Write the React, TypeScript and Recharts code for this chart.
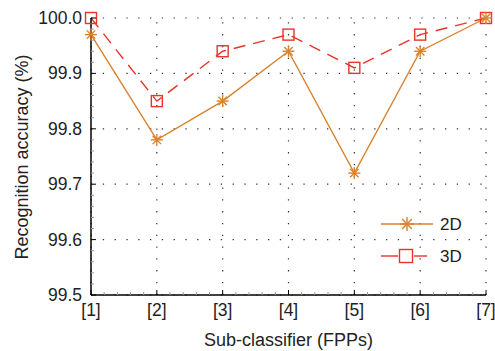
import React from 'react'
import { LineChart, Line, XAxis, YAxis, ReferenceLine, Label } from 'recharts'

const categories = ['[1]', '[2]', '[3]', '[4]', '[5]', '[6]', '[7]']
const acc2D = [99.97, 99.78, 99.85, 99.94, 99.72, 99.94, 100.0]
const acc3D = [100.0, 99.85, 99.94, 99.97, 99.91, 99.97, 100.0]
const yMajor = [99.5, 99.6, 99.7, 99.8, 99.9, 100.0]
const xMajor = [1, 2, 3, 4, 5, 6, 7]

const ORANGE = '#d9822b'
const RED = '#e8332a'
const FONT = "'Liberation Sans', Arial, sans-serif"

const data = categories.map((c, i) => ({ x: xMajor[i], label: c, d2: acc2D[i], d3: acc3D[i] }))

// minor ticks: 5 subdivisions between major ticks
const withMinor = (majors: number[]) => {
  const out: number[] = []
  for (let i = 0; i < majors.length - 1; i++) {
    const step = (majors[i + 1] - majors[i]) / 5
    for (let k = 0; k < 5; k++) out.push(+(majors[i] + k * step).toFixed(4))
  }
  out.push(majors[majors.length - 1])
  return out
}
const xTicks = withMinor(xMajor)
const yTicks = withMinor(yMajor)
const isMajor = (v: number, list: number[]) => list.some((m) => Math.abs(m - v) < 1e-6)

const series = [
  { key: 'd3', name: '3D', color: RED, dash: '12 8', marker: 'square' },
  { key: 'd2', name: '2D', color: ORANGE, dash: undefined, marker: 'asterisk' },
]

function Asterisk({ cx, cy, color, r = 6 }: { cx: number; cy: number; color: string; r?: number }) {
  const d = r * 0.707
  return (
    <g stroke={color} strokeWidth={1.4}>
      <line x1={cx - r} y1={cy} x2={cx + r} y2={cy} />
      <line x1={cx} y1={cy - r} x2={cx} y2={cy + r} />
      <line x1={cx - d} y1={cy - d} x2={cx + d} y2={cy + d} />
      <line x1={cx - d} y1={cy + d} x2={cx + d} y2={cy - d} />
    </g>
  )
}

function Square({ cx, cy, color, s = 11 }: { cx: number; cy: number; color: string; s?: number }) {
  return <rect x={cx - s / 2} y={cy - s / 2} width={s} height={s} fill="none" stroke={color} strokeWidth={1.4} />
}

function YTick(props: any) {
  const { x, y, payload } = props
  const major = isMajor(payload.value, yMajor)
  return (
    <g>
      <line x1={x} y1={y} x2={x + (major ? 5 : 3)} y2={y} stroke={major ? '#000' : '#999'} strokeWidth={1} />
      {major && (
        <text x={x - 9} y={y + 6} textAnchor="end" fontSize={17.5} fill="#222" fontFamily={FONT}>
          {payload.value.toFixed(1)}
        </text>
      )}
    </g>
  )
}

function XTick(props: any) {
  const { x, y, payload } = props
  const major = isMajor(payload.value, xMajor)
  const idx = xMajor.indexOf(Math.round(payload.value))
  return (
    <g>
      <line x1={x} y1={y} x2={x} y2={y - (major ? 5 : 3)} stroke={major ? '#000' : '#999'} strokeWidth={1} />
      {major && (
        <text x={x} y={y + 21} textAnchor="middle" fontSize={17.5} fill="#222" fontFamily={FONT}>
          {categories[idx]}
        </text>
      )}
    </g>
  )
}

const grid = { stroke: '#333', strokeWidth: 1.2, strokeDasharray: '1.3 10.5' }

export default function App() {
  return (
    <div style={{ position: 'absolute', left: 0, top: 0, width: 495, height: 351, background: '#fff', fontFamily: FONT }}>
      <LineChart width={495} height={351} data={data} margin={{ top: 18, right: 9, left: 0, bottom: 0 }}>
        {xMajor.map((v) => (
          <ReferenceLine key={'gx' + v} x={v} {...grid} />
        ))}
        {yMajor.map((v) => (
          <ReferenceLine key={'gy' + v} y={v} {...grid} />
        ))}
        <XAxis
          dataKey="x"
          type="number"
          domain={[1, 7]}
          ticks={xTicks}
          interval={0}
          height={56}
          tickSize={0}
          tickMargin={0}
          tickLine={false}
          tick={<XTick />}
          axisLine={{ stroke: '#000', strokeWidth: 1.5 }}
        >
          <Label
            content={() => (
              <text x={288.5} y={346} textAnchor="middle" fontSize={18} fill="#222" fontFamily={FONT}>
                Sub-classifier (FPPs)
              </text>
            )}
          />
        </XAxis>
        <YAxis
          type="number"
          domain={[99.5, 100]}
          ticks={yTicks}
          interval={0}
          width={91}
          tickSize={0}
          tickMargin={0}
          tickLine={false}
          tick={<YTick />}
          axisLine={{ stroke: '#000', strokeWidth: 1.5 }}
        >
          <Label
            content={() => (
              <text x={28} y={157} transform="rotate(-90 28 157)" textAnchor="middle" fontSize={18} fill="#222" fontFamily={FONT}>
                Recognition accuracy (%)
              </text>
            )}
          />
        </YAxis>
        {series.map((s) => (
          <Line
            key={s.key}
            type="linear"
            dataKey={s.key}
            name={s.name}
            stroke={s.color}
            strokeWidth={1.4}
            strokeDasharray={s.dash}
            isAnimationActive={false}
            activeDot={false}
            dot={(p: any) =>
              s.marker === 'square' ? (
                <Square key={s.key + p.index} cx={p.cx} cy={p.cy} color={s.color} />
              ) : (
                <Asterisk key={s.key + p.index} cx={p.cx} cy={p.cy} color={s.color} />
              )
            }
          />
        ))}
      </LineChart>
      <svg width={495} height={351} style={{ position: 'absolute', left: 0, top: 0, pointerEvents: 'none' }}>
        {[...series].reverse().map((s, i) => {
          const y = 224 + i * 32
          return (
            <g key={s.key}>
              {s.marker === 'square' ? (
                <>
                  <line x1={381} y1={y} x2={398} y2={y} stroke={s.color} strokeWidth={1.4} />
                  <line x1={414} y1={y} x2={427} y2={y} stroke={s.color} strokeWidth={1.4} />
                  <Square cx={406} cy={y} color={s.color} s={13} />
                </>
              ) : (
                <>
                  <line x1={381} y1={y} x2={433} y2={y} stroke={s.color} strokeWidth={1.4} />
                  <Asterisk cx={407} cy={y} color={s.color} r={7} />
                </>
              )}
              <text x={440} y={y + 6} fontSize={17} fill="#222" fontFamily={FONT}>
                {s.name}
              </text>
            </g>
          )
        })}
      </svg>
    </div>
  )
}
